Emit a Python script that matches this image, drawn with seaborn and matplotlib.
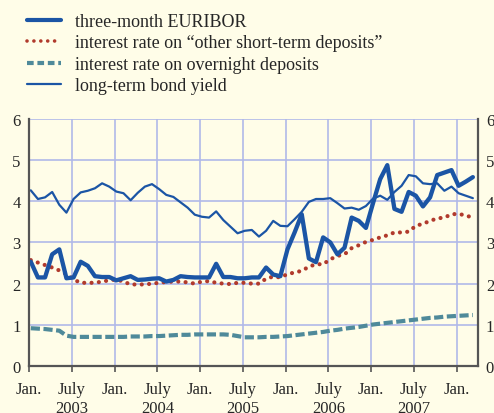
import numpy as np
import pandas as pd
import matplotlib
matplotlib.use("Agg")
import matplotlib.pyplot as plt
import seaborn as sns
from matplotlib.lines import Line2D

# ---- data (monthly, Jan 2003 .. Mar 2008) ----
euribor = [2.53, 2.15, 2.15, 2.71, 2.83, 2.13, 2.15, 2.53, 2.43, 2.18,
           2.16, 2.16, 2.08, 2.13, 2.18, 2.09, 2.10, 2.12, 2.13, 2.05,
           2.09, 2.18, 2.16, 2.15, 2.15, 2.15, 2.48, 2.16, 2.16, 2.13,
           2.13, 2.15, 2.15, 2.39, 2.22, 2.18, 2.83, 3.24, 3.68, 2.61,
           2.52, 3.12, 3.00, 2.71, 2.87, 3.60, 3.52, 3.35, 3.95, 4.53,
           4.87, 3.81, 3.74, 4.22, 4.13, 3.87, 4.09, 4.63, 4.69, 4.75,
           4.37, 4.47, 4.58]
other_short = [2.57, 2.51, 2.45, 2.39, 2.32, 2.23, 2.10, 2.02, 2.02, 2.02,
               2.05, 2.08, 2.10, 2.05, 1.98, 1.98, 1.98, 2.00, 2.02, 2.04,
               2.05, 2.05, 2.03, 2.00, 2.05, 2.06, 2.02, 2.00, 1.99, 2.02,
               2.02, 2.00, 2.00, 2.12, 2.17, 2.15, 2.23, 2.27, 2.31, 2.41,
               2.47, 2.47, 2.59, 2.67, 2.71, 2.86, 2.93, 3.01, 3.06, 3.12,
               3.17, 3.24, 3.24, 3.26, 3.40, 3.45, 3.52, 3.58, 3.60, 3.68,
               3.69, 3.65, 3.60]
overnight = [0.92, 0.91, 0.90, 0.88, 0.86, 0.74, 0.71, 0.71, 0.71, 0.71,
             0.71, 0.71, 0.71, 0.71, 0.72, 0.72, 0.72, 0.73, 0.73, 0.74,
             0.75, 0.76, 0.76, 0.77, 0.77, 0.77, 0.77, 0.77, 0.76, 0.73,
             0.70, 0.70, 0.70, 0.71, 0.71, 0.72, 0.73, 0.75, 0.77, 0.79,
             0.81, 0.83, 0.86, 0.88, 0.91, 0.93, 0.95, 0.98, 1.01, 1.03,
             1.05, 1.07, 1.09, 1.11, 1.13, 1.15, 1.17, 1.18, 1.20, 1.21,
             1.22, 1.23, 1.24]
bond_yield = [4.26, 4.05, 4.09, 4.22, 3.91, 3.72, 4.05, 4.21, 4.25, 4.31,
              4.43, 4.35, 4.23, 4.19, 4.02, 4.20, 4.35, 4.41, 4.29, 4.15,
              4.10, 3.97, 3.84, 3.67, 3.62, 3.60, 3.75, 3.54, 3.38, 3.22,
              3.28, 3.30, 3.14, 3.28, 3.52, 3.40, 3.39, 3.56, 3.74, 3.98,
              4.05, 4.05, 4.07, 3.95, 3.82, 3.84, 3.79, 3.88, 4.06, 4.13,
              4.03, 4.22, 4.37, 4.63, 4.60, 4.43, 4.41, 4.43, 4.25, 4.35,
              4.19, 4.13, 4.07]

tick_labels = ["Jan.", "July\n2003", "Jan.", "July\n2004", "Jan.", "July\n2005",
               "Jan.", "July\n2006", "Jan.", "July\n2007", "Jan."]
series_names = ["three-month EURIBOR",
                "interest rate on \u201cother short-term deposits\u201d",
                "interest rate on overnight deposits",
                "long-term bond yield"]

months = np.arange(len(euribor)) + 0.25
df = pd.DataFrame({"month": months, "euribor": euribor, "other": other_short,
                   "overnight": overnight, "bond": bond_yield})

sns.set_style("white")
plt.rcParams["font.family"] = ["Liberation Serif", "DejaVu Serif"]

BG = "#fffde8"
BLUE = "#1b55a5"
RED = "#b13a2c"
TEAL = "#4f8a9a"
GRID = "#b0b9e8"

fig = plt.figure(figsize=(4.94, 4.14), dpi=100, facecolor=BG)
ax = fig.add_axes([29 / 494, (414 - 367.2) / 414, (477.5 - 29) / 494, (367.2 - 119.5) / 414])
ax.set_facecolor(BG)

sns.lineplot(data=df, x="month", y="bond", ax=ax, color=BLUE, lw=1.6)
sns.lineplot(data=df, x="month", y="overnight", ax=ax, color=TEAL, lw=3.0,
             linestyle=(0, (2.2, 0.85)))
sns.lineplot(data=df, x="month", y="other", ax=ax, color=RED, lw=3.0,
             linestyle=(0, (0.01, 1.75)))
ax.lines[-1].set_dash_capstyle("round")
sns.lineplot(data=df, x="month", y="euribor", ax=ax, color=BLUE, lw=3.1)
for ln in ax.lines:
    ln.set_solid_joinstyle("round")

ax.set_xlim(0, 62.9)
ax.set_ylim(0, 6)
ax.set_xticks(np.arange(0, 61, 6))
ax.set_xticklabels(tick_labels)
ax.set_yticks(range(0, 7))
ax.set_xlabel("")
ax.set_ylabel("")
ax.grid(True, color=GRID, lw=1.2)
ax.set_axisbelow(True)

for side in ["left", "right", "bottom"]:
    ax.spines[side].set_visible(True)
    ax.spines[side].set_color("#555555")
    ax.spines[side].set_linewidth(1.6)
ax.spines["top"].set_visible(False)

ax.tick_params(axis="x", direction="out", length=4, width=1.2, color="#555555",
               labelsize=12, pad=7, bottom=True)
ax.tick_params(axis="y", length=0, labelsize=12, pad=6, labelleft=True, labelright=True)

handles = [Line2D([], [], color=BLUE, lw=3.0),
           Line2D([], [], color=RED, lw=2.6, linestyle=(0, (0.01, 1.9)), dash_capstyle="round"),
           Line2D([], [], color=TEAL, lw=3.0, linestyle=(0, (1.6, 0.9))),
           Line2D([], [], color=BLUE, lw=1.6)]
fig.legend(handles, series_names, loc="upper left", bbox_to_anchor=(22 / 494, 1 - 8.5 / 414),
           frameon=False, fontsize=13, handlelength=1.85, handletextpad=0.8,
           labelspacing=0.25, borderaxespad=0, borderpad=0.3)

fig.savefig("out.png", dpi=100, facecolor=BG)
